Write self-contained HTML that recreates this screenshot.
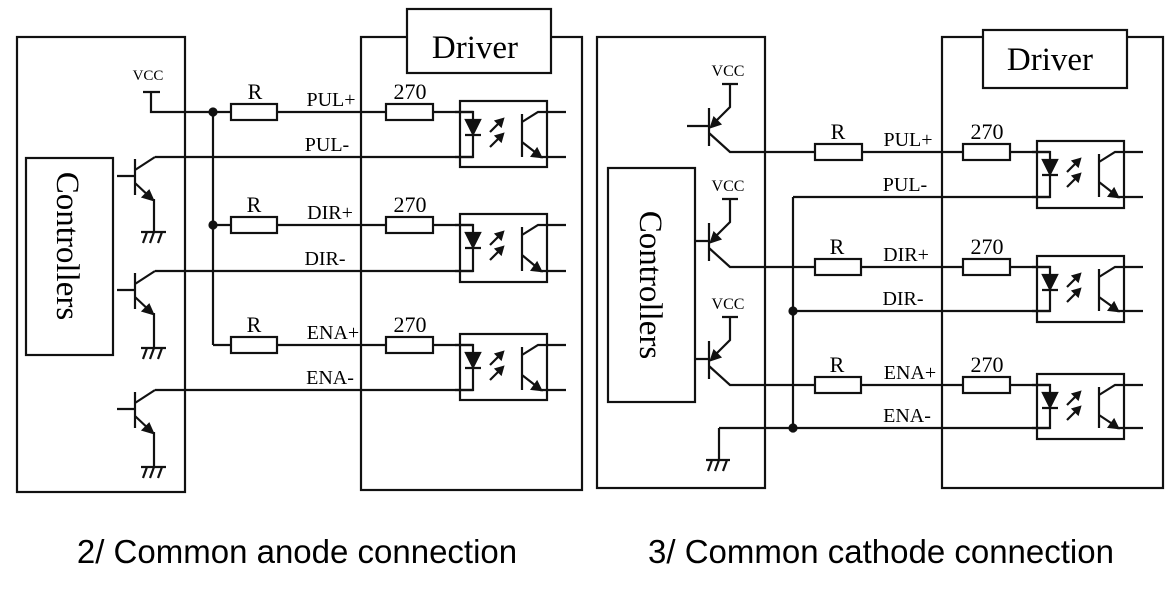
<!DOCTYPE html>
<html><head><meta charset="utf-8"><style>
html,body{margin:0;padding:0;background:#fff;}
svg{display:block;}
text{font-family:"Liberation Serif",serif;fill:#000;}
.cap{font-family:"Liberation Sans",sans-serif;}
</style></head><body>
<svg width="1165" height="593" viewBox="0 0 1165 593" xmlns="http://www.w3.org/2000/svg" stroke="#111" stroke-width="2.2" fill="none">
<!-- ===== LEFT ===== -->
<rect x="17" y="37" width="168" height="455"/>
<rect x="26" y="158" width="87" height="197" fill="#fff"/>
<text x="0" y="0" transform="translate(57,246) rotate(90)" font-size="33" text-anchor="middle" stroke="none">Controllers</text>
<rect x="361" y="37" width="221" height="453"/>
<rect x="407" y="9" width="144" height="64" fill="#fff"/>
<text x="475" y="58" font-size="33" text-anchor="middle" stroke="none">Driver</text>
<!-- VCC -->
<text x="148" y="80" font-size="15" text-anchor="middle" stroke="none">VCC</text>
<path d="M143 92H160M151 92V112H473"/>
<circle cx="213" cy="112" r="3.5" fill="#111"/>
<path d="M213 112V345"/>
<circle cx="213" cy="225" r="3.5" fill="#111"/>
<path d="M213 225H473M213 345H473"/>
<path d="M155 157H473M155 271H473M155 390H473"/>
<g fill="#fff">
<rect x="231" y="104" width="46" height="16"/><rect x="386" y="104" width="47" height="16"/>
<rect x="231" y="217" width="46" height="16"/><rect x="386" y="217" width="47" height="16"/>
<rect x="231" y="337" width="46" height="16"/><rect x="386" y="337" width="47" height="16"/>
</g>
<g stroke="none" font-size="22" text-anchor="middle">
<text x="255" y="99">R</text><text x="410" y="99">270</text>
<text x="254" y="212">R</text><text x="410" y="212">270</text>
<text x="254" y="332">R</text><text x="410" y="332">270</text>
</g>
<g stroke="none" font-size="20" text-anchor="middle">
<text x="331" y="106">PUL+</text><text x="327" y="151">PUL-</text>
<text x="330" y="219">DIR+</text><text x="325" y="265">DIR-</text>
<text x="333" y="339">ENA+</text><text x="330" y="384">ENA-</text>
</g>
<!-- NPN transistors -->
<g transform="translate(0,157)">
<path d="M135 2V38M117 19H135M135 13L155 0M135 26L152 42M154 42V75M141 75H166M147 75L143 86M154 75L150 86M162 75L158 86"/>
<path d="M153 43L143 40L149 34Z" fill="#111"/>
</g>
<g transform="translate(0,271)">
<path d="M135 2V38M117 19H135M135 13L155 0M135 26L152 42M154 42V77M141 77H166M147 77L143 88M154 77L150 88M162 77L158 88"/>
<path d="M153 43L143 40L149 34Z" fill="#111"/>
</g>
<g transform="translate(0,390)">
<path d="M135 2V38M117 19H135M135 13L155 0M135 26L152 42M154 42V77M141 77H166M147 77L143 88M154 77L150 88M162 77L158 88"/>
<path d="M153 43L143 40L149 34Z" fill="#111"/>
</g>
<!-- optos left -->
<g transform="translate(460,112)">
<rect x="0" y="-11" width="87" height="66"/>
<path d="M-5 0H13V8M5 23H21M13 23V45H-5M62 2V45M62 10L78 0H106M62 30L80 44M80 45H106M30 20L42 8M30 35L42 23"/>
<path d="M6 8H20L13 22Z" fill="#111"/>
<path d="M43 7L36 9L41 14Z M43 22L36 24L41 29Z M81 45L72 44L77 37Z" fill="#111"/>
</g>
<g transform="translate(460,225)">
<rect x="0" y="-11" width="87" height="68"/>
<path d="M-5 0H13V8M5 23H21M13 23V46H-5M62 2V46M62 10L78 0H106M62 30L80 45M80 46H106M30 20L42 8M30 35L42 23"/>
<path d="M6 8H20L13 22Z" fill="#111"/>
<path d="M43 7L36 9L41 14Z M43 22L36 24L41 29Z M81 46L72 45L77 38Z" fill="#111"/>
</g>
<g transform="translate(460,345)">
<rect x="0" y="-11" width="87" height="66"/>
<path d="M-5 0H13V8M5 23H21M13 23V45H-5M62 2V45M62 10L78 0H106M62 30L80 44M80 45H106M30 20L42 8M30 35L42 23"/>
<path d="M6 8H20L13 22Z" fill="#111"/>
<path d="M43 7L36 9L41 14Z M43 22L36 24L41 29Z M81 45L72 44L77 37Z" fill="#111"/>
</g>

<!-- ===== RIGHT ===== -->
<rect x="597" y="37" width="168" height="451"/>
<rect x="608" y="168" width="87" height="234" fill="#fff"/>
<text x="0" y="0" transform="translate(640,285) rotate(90)" font-size="33" text-anchor="middle" stroke="none">Controllers</text>
<rect x="942" y="37" width="221" height="451"/>
<rect x="983" y="30" width="144" height="58" fill="#fff"/>
<text x="1050" y="70" font-size="33" text-anchor="middle" stroke="none">Driver</text>
<g transform="translate(0,152)">
<text x="728" y="-76" font-size="16" text-anchor="middle" stroke="none">VCC</text>
<path d="M722 -68H738M730 -68V-45L712 -27M709 -44V-6M687 -26H709M709 -19L730 0H1050"/>
<path d="M711 -25L714 -34L720 -28Z" fill="#111"/>
</g>
<g transform="translate(0,267)">
<text x="728" y="-76" font-size="16" text-anchor="middle" stroke="none">VCC</text>
<path d="M722 -68H738M730 -68V-45L712 -27M709 -44V-6M695 -26H709M709 -19L730 0H1050"/>
<path d="M711 -25L714 -34L720 -28Z" fill="#111"/>
</g>
<g transform="translate(0,385)">
<text x="728" y="-76" font-size="16" text-anchor="middle" stroke="none">VCC</text>
<path d="M722 -68H738M730 -68V-45L712 -27M709 -44V-6M695 -26H709M709 -19L730 0H1050"/>
<path d="M711 -25L714 -34L720 -28Z" fill="#111"/>
</g>
<path d="M793 197H1050M793 197V428M793 311H1050M719 428H1050M719 428V460M706 460H730M712 460L708 471M719 460L715 471M727 460L723 471"/>
<circle cx="793" cy="311" r="3.5" fill="#111"/>
<circle cx="793" cy="428" r="3.5" fill="#111"/>
<g fill="#fff">
<rect x="815" y="144" width="47" height="16"/><rect x="963" y="144" width="47" height="16"/>
<rect x="815" y="259" width="46" height="16"/><rect x="963" y="259" width="47" height="16"/>
<rect x="815" y="377" width="46" height="16"/><rect x="963" y="377" width="47" height="16"/>
</g>
<g stroke="none" font-size="22" text-anchor="middle">
<text x="838" y="139">R</text><text x="987" y="139">270</text>
<text x="837" y="254">R</text><text x="987" y="254">270</text>
<text x="837" y="372">R</text><text x="987" y="372">270</text>
</g>
<g stroke="none" font-size="20" text-anchor="middle">
<text x="908" y="146">PUL+</text><text x="905" y="191">PUL-</text>
<text x="906" y="261">DIR+</text><text x="903" y="305">DIR-</text>
<text x="910" y="379">ENA+</text><text x="907" y="422">ENA-</text>
</g>
<g transform="translate(1037,152)">
<rect x="0" y="-11" width="87" height="67"/>
<path d="M-5 0H13V8M5 23H21M13 23V45H-5M62 2V45M62 10L78 0H106M62 30L80 44M80 45H106M30 20L42 8M30 35L42 23"/>
<path d="M6 8H20L13 22Z" fill="#111"/>
<path d="M43 7L36 9L41 14Z M43 22L36 24L41 29Z M81 45L72 44L77 37Z" fill="#111"/>
</g>
<g transform="translate(1037,267)">
<rect x="0" y="-11" width="87" height="66"/>
<path d="M-5 0H13V8M5 23H21M13 23V44H-5M62 2V44M62 10L78 0H106M62 30L80 43M80 44H106M30 20L42 8M30 35L42 23"/>
<path d="M6 8H20L13 22Z" fill="#111"/>
<path d="M43 7L36 9L41 14Z M43 22L36 24L41 29Z M81 44L72 43L77 36Z" fill="#111"/>
</g>
<g transform="translate(1037,385)">
<rect x="0" y="-11" width="87" height="65"/>
<path d="M-5 0H13V8M5 23H21M13 23V43H-5M62 2V43M62 10L78 0H106M62 30L80 42M80 43H106M30 20L42 8M30 35L42 23"/>
<path d="M6 8H20L13 22Z" fill="#111"/>
<path d="M43 7L36 9L41 14Z M43 22L36 24L41 29Z M81 43L72 42L77 35Z" fill="#111"/>
</g>
<text class="cap" x="297" y="563" font-size="33" text-anchor="middle" stroke="none">2/ Common anode connection</text>
<text class="cap" x="881" y="563" font-size="33" text-anchor="middle" stroke="none">3/ Common cathode connection</text>
</svg>
</body></html>
